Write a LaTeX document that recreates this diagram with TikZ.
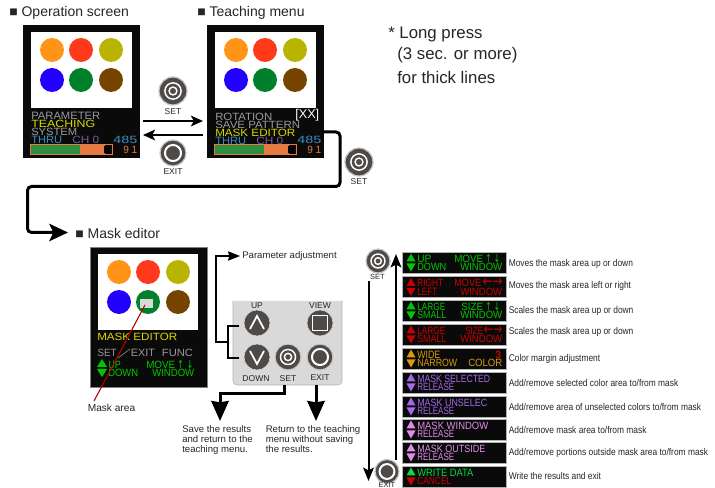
\documentclass[tikz,border=0pt]{standalone}
\usepackage{fontspec}
\usepackage{graphicx}
\setmainfont{Liberation Sans}
\newfontfamily\arrowf{DejaVu Sans}
\usetikzlibrary{arrows.meta,calc}
\definecolor{cOrange}{HTML}{FF9418}
\definecolor{cRed}{HTML}{FF3A1A}
\definecolor{cOlive}{HTML}{B8B400}
\definecolor{cBlue}{HTML}{2200FF}
\definecolor{cGreen}{HTML}{00802B}
\definecolor{cBrown}{HTML}{774400}
\definecolor{scr}{HTML}{0A0A0A}
\definecolor{sgray}{HTML}{9A9A9A}
\definecolor{syel}{HTML}{D8D800}
\definecolor{sblue}{HTML}{3D8CC0}
\definecolor{spur}{HTML}{7A5A9A}
\definecolor{sora}{HTML}{E57B40}
\definecolor{sgrn}{HTML}{2C8F3E}
\definecolor{mgrn}{HTML}{00C800}
\definecolor{mred}{HTML}{C80000}
\definecolor{mora}{HTML}{D89A10}
\definecolor{mpur}{HTML}{A468E8}
\definecolor{mpnk}{HTML}{E08CE8}
\definecolor{mwrt}{HTML}{00E040}
\definecolor{bgray}{HTML}{4E4A48}
\definecolor{bhalo}{HTML}{C8C8C8}
\tikzset{
  x=0.75pt,y=-0.75pt,
  title/.style={anchor=west,inner sep=0,font=\fontsize{10.5}{12}\selectfont,text=black!85},
  note/.style={anchor=west,inner sep=0,font=\fontsize{12.6}{14}\selectfont,text=black!85},
  small/.style={anchor=center,inner sep=0,font=\fontsize{6.4}{7.5}\selectfont,text=black!85},
  para/.style={anchor=north west,inner sep=0,align=left,font=\fontsize{7.2}{7.6}\selectfont,text=black!85},
  desc/.style={anchor=west,inner sep=0,font=\fontsize{7}{8}\selectfont,text=black!85},
  ftx/.style={anchor=west,inner sep=0,font=\fontsize{8}{8}\selectfont},
  thin arrow/.style={line width=1.5*0.75pt,-{Stealth[length=9pt,width=8pt,inset=2pt]}},
  heavy arrow/.style={line width=3*0.75pt,-{Stealth[length=14pt,width=13pt,inset=3pt]},rounded corners=3pt},
  long arrow/.style={line width=2*0.75pt,-{Stealth[length=10pt,width=8pt,inset=2pt]}},
  drop arrow/.style={line width=3*0.75pt,-{Stealth[length=15pt,width=13pt,inset=1pt]}},
  halo/.style={fill=bgray,draw=bhalo,line width=0.9pt},
  ring/.style={draw=white,line width=1.1pt},
  panelbtn/.style={circle,fill=bgray,draw=black!15,minimum size=19.5pt,inner sep=0},
}
\newcommand\narrowt[1]{\scalebox{0.9}[1.05]{#1}}
% \ft name x y colour width text : cap text fitted to a given pixel width
\newcommand\ft[6]{\node[ftx,text=#4] (#1) at (#2,#3) {\resizebox{\dimexpr#5pt*3/4\relax}{5.5pt}{#6}};}
\newcommand\fa[6]{\node[ftx,text=#4] (#1) at (#2,#3) {\resizebox{\dimexpr#5pt*3/4\relax}{6pt}{\arrowf #6}};}
\newcommand\sixdots[3]{%
  \fill[cOrange] (#1+29,#2) circle (12);
  \fill[cRed] (#1+58,#2) circle (12);
  \fill[cOlive] (#1+88,#2) circle (12);
  \fill[cBlue] (#1+29,#3) circle (12);
  \fill[cGreen] (#1+58,#3) circle (12);
  \fill[cBrown] (#1+88,#3) circle (12);
}
\newcommand\screen[1]{%
  \fill[scr] (#1,25) rectangle (#1+117,158);
  \fill[white] (#1+8,32) rectangle (#1+109,108);
  \sixdots{#1}{50}{80}
  \fill[sgrn] (#1+7,144) rectangle (#1+57,154.5);
  \fill[sora] (#1+57,144) rectangle (#1+82,154.5);
  \fill[black] (#1+81,146) rectangle (#1+87,153);
  \draw[sora,line width=0.6pt] (#1+7,144) rectangle (#1+89,154.5);
}
\newcommand\updown[5]{%
  \fill[#4] (#1-#3,#2-1) -- (#1,#2-9) -- (#1+#3,#2-1) -- cycle;
  \fill[#5] (#1-#3,#2+1) -- (#1,#2+9) -- (#1+#3,#2+1) -- cycle;
}
\newcommand\setbtn[4]{%
  \node[circle,halo,minimum size=#4*1.5pt,inner sep=0] (#1) at (#2,#3) {};
  \draw[ring] (#2,#3) circle (#4*0.58);
  \draw[ring] (#2,#3) circle (#4*0.28);
}
\newcommand\exitbtn[4]{%
  \node[circle,halo,minimum size=#4*1.5pt,inner sep=0] (#1) at (#2,#3) {};
  \draw[ring,line width=1.5pt] (#2,#3) circle (#4*0.62);
}
% \menu name top c1 c2 l1 w1 l2 w2
\newcommand\menu[8]{%
  \fill[scr,draw=black!30,line width=0.3pt] (402.5,#2) rectangle (506,#2+21);
  \updown{411}{#2+10.5}{4.5}{#3}{#4}
  \ft{#1a}{417}{#2+6.5}{#3}{#6}{#5}
  \ft{#1b}{417}{#2+15}{#4}{#8}{#7}
}
\begin{document}
\begin{tikzpicture}
\useasboundingbox (0,0) rectangle (715,488);
\fill[white] (0,0) rectangle (715,488);
\node[title] (t1) at (9,13) {■ Operation screen};
\node[title] (t2) at (197,13) {■ Teaching menu};
\node[title] (t3) at (75,233) {■ Mask editor};
\node[note] (n1) at (388,34) {* Long press};
\node[note] (n2) at (397,55) {(3 sec. or more)};
\node[note] (n3) at (397,77) {for thick lines};
\screen{23}
\ft{a1}{31}{115.7}{sgray}{69}{PARAMETER}
\ft{a2}{31}{124}{syel}{64}{TEACHING}
\ft{a3}{31}{132.2}{sgray}{46}{SYSTEM}
\ft{a4}{31}{140.3}{sblue}{31}{THRU}
\ft{a5}{72}{140.3}{spur}{27}{CH 0}
\ft{a6}{113}{139.7}{sblue}{24}{485}
\ft{a7}{123}{150}{sora}{14}{9 1}
\screen{207}
\ft{b1}{215}{116.7}{sgray}{57}{ROTATION}
\ft{b2}{215}{125}{sgray}{85}{SAVE PATTERN}
\ft{b3}{215}{132.8}{syel}{80}{MASK EDITOR}
\ft{b4}{215}{140.6}{sblue}{31}{THRU}
\ft{b5}{256}{140.6}{spur}{27}{CH 0}
\ft{b6}{297}{139.7}{sblue}{24}{485}
\ft{b7}{307}{150}{sora}{14}{9 1}
\node[ftx,text=white] (b8) at (295,115.7) {\resizebox{18pt}{!}{[XX]}};
\setbtn{s1}{173}{91}{14}
\node[small] (s1t) at (173,112) {SET};
\exitbtn{e1}{173}{153}{13}
\node[small] (e1t) at (173,172) {EXIT};
\coordinate (ar1) at (143,121); \coordinate (ar2) at (203,121);
\coordinate (ar3) at (203,135); \coordinate (ar4) at (143,135);
\draw[thin arrow] (ar1) -- (ar2);
\draw[thin arrow] (ar3) -- (ar4);
\coordinate (h0) at (324,132); \coordinate (h1) at (340,132); \coordinate (h2) at (340,186.5);
\coordinate (h3) at (27.5,186.5); \coordinate (h4) at (27.5,232.5); \coordinate (h5) at (68,232.5);
\draw[heavy arrow] (h0) -- (h1) -- (h2) -- (h3) -- (h4) -- (h5);
\setbtn{s2}{359}{162}{14}
\node[small] (s2t) at (359,182) {SET};
\fill[scr,draw=black!50,line width=0.3pt] (90,247) rectangle (207,387);
\fill[white] (98,254) rectangle (198,330);
\sixdots{90}{272}{302}
\fill[black!15] (140,299) rectangle (153,308);
\ft{c1}{97}{336.7}{syel}{80}{MASK EDITOR}
\ft{c2}{97.3}{353}{sgray}{19}{SET}
\ft{c3}{130.7}{353}{sgray}{24}{EXIT}
\ft{c4}{161.7}{353}{sgray}{31}{FUNC}
\draw[sgray,line width=0.4pt] (118,358) -- (130,349);
\updown{102}{368}{5}{mgrn}{mgrn}
\ft{c5}{108}{364.5}{mgrn}{12.5}{UP}
\ft{c6}{108}{372.7}{mgrn}{30}{DOWN}
\ft{c7}{146}{364.5}{mgrn}{29}{MOVE}
\fa{c7a}{177}{364.5}{mgrn}{16}{↑ ↓}
\ft{c8}{152}{372.7}{mgrn}{42}{WINDOW}
\node[small,font=\fontsize{7.6}{8}\selectfont] (mk) at (111.5,408) {Mask area};
\coordinate (mk0) at (145,305); \coordinate (mk1) at (94,401);
\draw[red!70!black,line width=0.8pt] (mk0) -- (mk1);
\fill[black!15,rounded corners=3pt,draw=black!30,line width=0.4pt] (233,301) -- (233,385) -- (342,385) -- (342,301);
\node[panelbtn] (up) at (257,323) {};
\draw[white,line width=1.3pt] (250,329) -- (257,316) -- (264,329);
\node[panelbtn] (dn) at (257,357) {};
\draw[white,line width=1.3pt] (250,351) -- (257,364) -- (264,351);
\node[panelbtn] (vw) at (320,323) {};
\draw[white,line width=1.3pt] (312.5,315.5) rectangle (327.5,330.5);
\setbtn{s3}{288}{357}{13}
\exitbtn{e3}{320}{357}{13}
\node[small] (l1) at (257,306) {UP};
\node[small] (l2) at (320,306) {VIEW};
\node[small] (l3) at (256,379) {DOWN};
\node[small] (l4) at (288,379) {SET};
\node[small] (l5) at (320,378) {EXIT};
\coordinate (pa) at (240,256);
\node[desc,font=\fontsize{7.2}{8}\selectfont] (padj) at (242,256) {Parameter adjustment};
\coordinate (br1) at (239,326); \coordinate (br2) at (228,326); \coordinate (br3) at (228,358); \coordinate (br4) at (239,358);
\draw[line width=0.9pt] (br1) -- (br2) -- (br3) -- (br4);
\coordinate (br5) at (228,342); \coordinate (br6) at (216,342); \coordinate (br7) at (216,256);
\draw[line width=0.9pt,-{Stealth[length=9pt,width=7pt,inset=1pt]}] (br5) -- (br6) -- (br7) -- (pa);
\coordinate (sa0) at (284,385); \coordinate (sa1) at (284,394); \coordinate (sa2) at (220,394); \coordinate (sa3) at (220,421);
\draw[drop arrow] (sa0) -- (sa1) -- (sa2) -- (sa3);
\coordinate (ea0) at (316,385); \coordinate (ea1) at (316,421);
\draw[drop arrow] (ea0) -- (ea1);
\node[para] (p1) at (182,425) {Save the results\\and return to the\\teaching menu.};
\node[para] (p2) at (265.5,425) {Return to the teaching\\menu without saving\\the results.};
\setbtn{s4}{378}{261}{12}
\node[small,font=\fontsize{5.6}{7}\selectfont] (s4t) at (377.5,277) {SET};
\exitbtn{e4}{387}{471.5}{12}
\node[small,font=\fontsize{5.6}{6}\selectfont] (e4t) at (387,485) {EXIT};
\coordinate (d0) at (368.5,281); \coordinate (d1) at (368.5,481);
\draw[long arrow] (d0) -- (d1);
\coordinate (u0) at (396,460); \coordinate (u1) at (396,254);
\draw[long arrow] (u0) -- (u1);
\menu{m1}{252}{mgrn}{mgrn}{UP}{14}{DOWN}{29}
\ft{m1c}{454}{258.5}{mgrn}{29}{MOVE}
\fa{m1e}{485}{258.5}{mgrn}{15}{↑ ↓}
\ft{m1d}{460}{267}{mgrn}{42}{WINDOW}
\menu{m2}{276.5}{mred}{mred}{RIGHT}{26}{LEFT}{20}
\ft{m2c}{454}{283}{mred}{27}{MOVE}
\fa{m2e}{482.5}{283}{mred}{19.5}{←→}
\ft{m2d}{460}{291.5}{mred}{42}{WINDOW}
\menu{m3}{300}{mgrn}{mgrn}{LARGE}{28}{SMALL}{29}
\ft{m3c}{461}{306.5}{mgrn}{22}{SIZE}
\fa{m3e}{485}{306.5}{mgrn}{15}{↑ ↓}
\ft{m3d}{460}{315}{mgrn}{42}{WINDOW}
\menu{m4}{324}{mred}{mred}{LARGE}{28}{SMALL}{29}
\ft{m4c}{465}{330.5}{mred}{18}{SIZE}
\fa{m4e}{483.5}{330.5}{mred}{18.5}{←→}
\ft{m4d}{460}{339}{mred}{42}{WINDOW}
\menu{m5}{348}{mora}{mora}{WIDE}{23}{NARROW}{40}
\node[ftx,text=mred,font=\bfseries\fontsize{8}{8}\selectfont] (m5n) at (495,354.5) {3};
\ft{m5d}{468}{363}{mora}{34}{COLOR}
\menu{m6}{372}{mpur}{mpur}{MASK SELECTED}{73}{RELEASE}{37}
\menu{m7}{396}{mpur}{mpur}{MASK UNSELEC}{70}{RELEASE}{37}
\menu{m8}{419}{mpnk}{mpnk}{MASK WINDOW}{71}{RELEASE}{37}
\menu{m9}{442}{mpnk}{mpnk}{MASK OUTSIDE}{68}{RELEASE}{37}
\menu{m10}{466}{mwrt}{mred}{WRITE DATA}{56}{CANCEL}{34}
\node[desc] (d1t) at (508.5,264) {\narrowt{Moves the mask area up or down}};
\node[desc] (d2t) at (508.5,286) {\narrowt{Moves the mask area left or right}};
\node[desc] (d3t) at (508.5,311) {\narrowt{Scales the mask area up or down}};
\node[desc] (d4t) at (508.5,332) {\narrowt{Scales the mask area up or down}};
\node[desc] (d5t) at (508.5,359) {\narrowt{Color margin adjustment}};
\node[desc] (d6t) at (508.5,383) {\narrowt{Add/remove selected color area to/from mask}};
\node[desc] (d7t) at (508.5,407) {\narrowt{Add/remove area of unselected colors to/from mask}};
\node[desc] (d8t) at (508.5,430) {\narrowt{Add/remove mask area to/from mask}};
\node[desc] (d9t) at (508.5,453) {\narrowt{Add/remove portions outside mask area to/from mask}};
\node[desc] (d10t) at (508.5,476) {\narrowt{Write the results and exit}};
\end{tikzpicture}
\end{document}
